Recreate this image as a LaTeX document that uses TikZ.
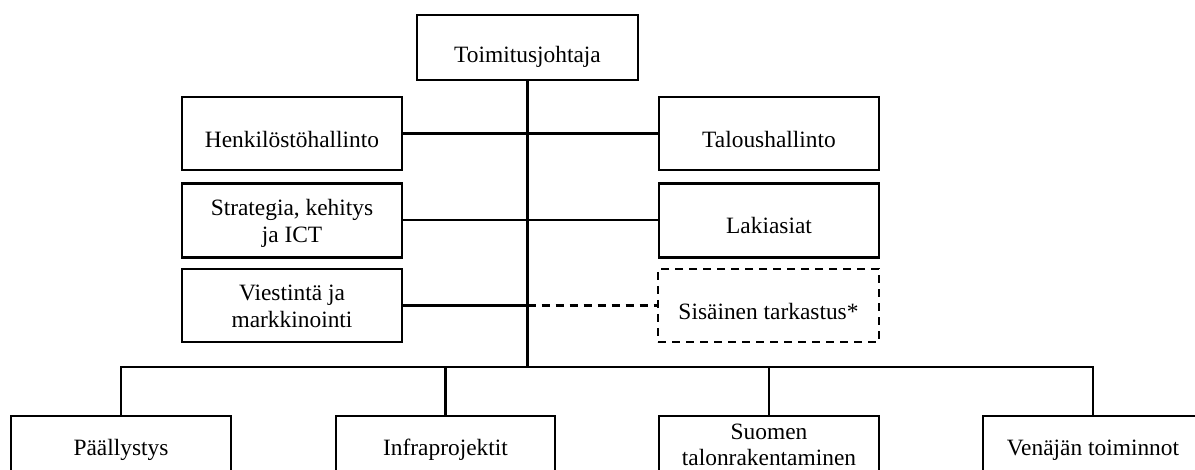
\documentclass[tikz,border=0pt]{standalone}
\usepackage{fontspec}
\setmainfont{Liberation Serif}
\begin{document}
\begin{tikzpicture}[x=1pt,y=1pt,
  box/.style={draw=black, line width=2.6pt, fill=white, inner sep=0pt, minimum width=220pt, minimum height=73pt},
  dbox/.style={box, dash pattern=on 8pt off 6pt},
  lbl/.style={inner sep=0pt, anchor=base, font=\fontsize{23.4}{26.5}\selectfont},
  conn/.style={line width=2.3pt},
  dconn/.style={line width=2.3pt, dash pattern=on 8pt off 6pt}]
\useasboundingbox (0,0) rectangle (1195,-470);
\clip (0,0) rectangle (1195,-470);
\fill[white] (0,0) rectangle (1195,-470);
% boxes
\node[box, minimum width=221pt, minimum height=65pt] (ceo) at (527.5,-47.5) {};
\node[box] (henk) at (292,-133.5) {};
\node[box, minimum height=74pt] (strat) at (292,-220.3) {};
\node[box] (viest) at (292,-305.5) {};
\node[box] (talous) at (769,-133.5) {};
\node[box, minimum height=74pt] (laki) at (769,-220.3) {};
\node[dbox, minimum width=221pt] (sis) at (768.5,-305.5) {};
\node[box] (pall) at (121,-452.5) {};
\node[box, minimum width=219pt] (infra) at (445.5,-452.5) {};
\node[box] (suomi) at (769,-452.5) {};
\node[box] (vena) at (1093,-452.5) {};
% connector points
\coordinate (bus) at (527.5,-367);
\coordinate (vj) at (527.5,-305.5);
% connectors
\draw[conn] (ceo.south) -- (bus);
\draw[conn] (henk.east) -- (talous.west);
\draw[conn] (strat.east) -- (laki.west);
\draw[conn] (viest.east) -- (vj);
\draw[dconn] (vj) -- (sis.west);
\draw[conn] (pall.north) -- (pall.north |- bus) -- (vena.north |- bus) -- (vena.north);
\draw[conn] (infra.north) -- (infra.north |- bus);
\draw[conn] (suomi.north) -- (suomi.north |- bus);
% labels
\node[lbl] (ceoT) at (527.5,-62.7) {Toimitusjohtaja};
\node[lbl] (henkT) at (292,-147.7) {Henkilöstöhallinto};
\node[lbl] (stratT) at (292,-215.7) {\begin{tabular}[t]{@{}c@{}}Strategia, kehitys\\ja ICT\end{tabular}};
\node[lbl] (viestT) at (292,-301) {\begin{tabular}[t]{@{}c@{}}Viestintä ja\\markkinointi\end{tabular}};
\node[lbl] (talousT) at (769,-147.7) {Taloushallinto};
\node[lbl] (lakiT) at (769,-233.3) {Lakiasiat};
\node[lbl] (sisT) at (768.5,-319.3) {Sisäinen tarkastus*};
\node[lbl] (pallT) at (121,-455.5) {Päällystys};
\node[lbl] (infraT) at (445.5,-455.5) {Infraprojektit};
\node[lbl] (suomiT) at (769,-439.3) {\begin{tabular}[t]{@{}c@{}}Suomen\\talonrakentaminen\end{tabular}};
\node[lbl] (venaT) at (1093,-455.5) {Venäjän toiminnot};
\end{tikzpicture}
\end{document}
